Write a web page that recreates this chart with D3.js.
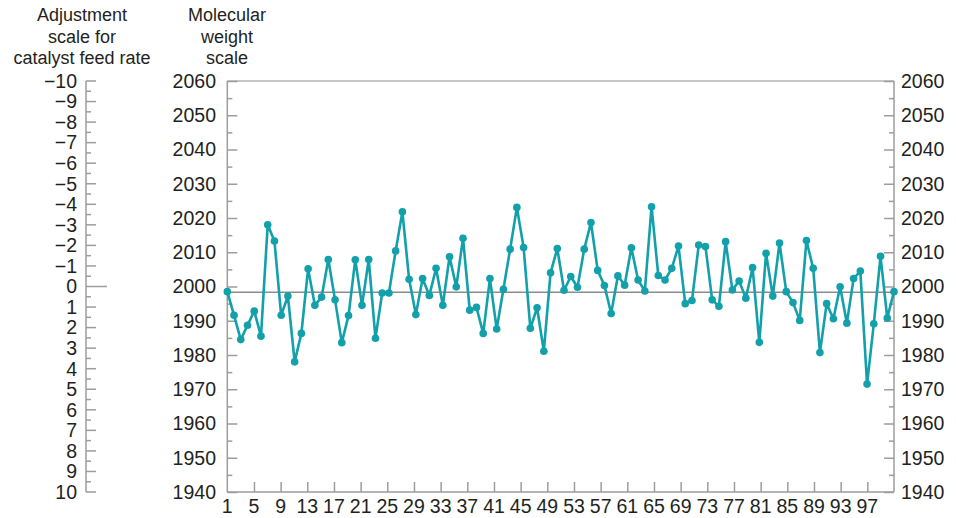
<!DOCTYPE html>
<html>
<head>
<meta charset="utf-8">
<script src="https://cdn.jsdelivr.net/npm/d3@7"></script>
<style>
  html, body { margin: 0; padding: 0; background: #fff; }
  svg { display: block; }
  text { font-family: "Liberation Sans", Arial, sans-serif; fill: #231f20; }
</style>
</head>
<body>
<svg id="chart" width="956" height="518"></svg>
<script>
// ---- data ----
const observations = [
  1998.5, 1991.6, 1984.5, 1988.7, 1992.8, 1985.5, 2018.0, 2013.3, 1991.6, 1997.2,
  1978.0, 1986.3, 2005.2, 1994.5, 1996.9, 2007.9, 1996.1, 1983.6, 1991.5, 2007.8,
  1994.5, 2007.9, 1984.9, 1998.1, 1998.1, 2010.4, 2021.8, 2002.1, 1991.8, 2002.3,
  1997.4, 2005.3, 1994.5, 2008.7, 1999.9, 2014.1, 1993.1, 1993.9, 1986.3, 2002.3,
  1987.6, 1999.2, 2010.9, 2023.1, 2011.4, 1987.8, 1993.8, 1981.1, 2004.0, 2011.1,
  1998.9, 2002.9, 1999.8, 2010.9, 2018.7, 2004.7, 2000.3, 1992.1, 2003.1, 2000.4,
  2011.3, 2001.9, 1998.7, 2023.3, 2003.2, 2001.9, 2005.3, 2011.8, 1995.0, 1995.9,
  2012.1, 2011.7, 1996.1, 1994.2, 2013.1, 1999.0, 2001.6, 1996.6, 2005.5, 1983.7,
  2009.7, 1997.2, 2012.7, 1998.5, 1995.3, 1990.1, 2013.4, 2005.3, 1980.7, 1995.0,
  1990.6, 1999.9, 1989.3, 2002.3, 2004.5, 1971.5, 1989.1, 2008.8, 1990.8, 1998.5
];
const xTickLabels = [1, 5, 9, 13, 17, 21, 25, 29, 33, 37, 41, 45, 49, 53, 57, 61, 65, 69, 73, 77, 81, 85, 89, 93, 97];
const mwTicks = [1940, 1950, 1960, 1970, 1980, 1990, 2000, 2010, 2020, 2030, 2040, 2050, 2060];
const mwMinorTicks = [1945, 1955, 1965, 1975, 1985, 1995, 2005, 2015, 2025, 2035, 2045, 2055];
const adjTicks = [-10, -9, -8, -7, -6, -5, -4, -3, -2, -1, 0, 1, 2, 3, 4, 5, 6, 7, 8, 9, 10];
const adjMinorTicks = [-9.5, -8.5, -7.5, -6.5, -5.5, -4.5, -3.5, -2.5, -1.5, -0.5, 0.5, 1.5, 2.5, 3.5, 4.5, 5.5, 6.5, 7.5, 8.5, 9.5];
const centerValue = [1998.3];
const leftTitle = ["Adjustment", "scale for", "catalyst feed rate"];
const midTitle = ["Molecular", "weight", "scale"];

// ---- layout ----
const L = 227.3, R = 894, T = 81, B = 492, ADJX = 86;
const axisColor = "#9d9d9d";
const lineColor = "#12a0ab";
const fs = 18, nfs = 19.5;

const svg = d3.select("#chart");

const x = d3.scaleLinear().domain([1, observations.length]).range([L, R]);
const xTick = d3.scaleLinear().domain([1, observations.length + 1]).range([L, R]);
const y = d3.scaleLinear().domain([1940, 2060]).range([B, T]);
const adj = d3.scaleLinear().domain([-10, 10]).range([T, B]);

const minus = v => (v < 0 ? "\u2212" + Math.abs(v) : String(v));

// ---- titles ----
const titleG = svg.append("g");
leftTitle.forEach((t, i) => {
  titleG.append("text").attr("x", 82).attr("y", 21 + i * 21.5)
    .attr("text-anchor", "middle").attr("font-size", fs).text(t);
});
midTitle.forEach((t, i) => {
  titleG.append("text").attr("x", 227).attr("y", 21 + i * 21.5)
    .attr("text-anchor", "middle").attr("font-size", fs).text(t);
});

// ---- adjustment axis ----
const ag = svg.append("g").attr("stroke", axisColor).attr("stroke-width", 1.5);
ag.append("line").attr("x1", ADJX).attr("x2", ADJX).attr("y1", adj(-10)).attr("y2", adj(10));
ag.selectAll(".maj").data(adjTicks).join("line")
  .attr("x1", ADJX).attr("x2", d => ADJX + (d === 0 ? 21 : 10))
  .attr("y1", d => adj(d)).attr("y2", d => adj(d));
ag.selectAll(".min").data(adjMinorTicks).join("line")
  .attr("x1", ADJX).attr("x2", ADJX + 5)
  .attr("y1", d => adj(d)).attr("y2", d => adj(d));
svg.append("g").selectAll("text").data(adjTicks).join("text")
  .attr("x", 77).attr("y", d => adj(d)).attr("dy", "0.35em")
  .attr("text-anchor", "end").attr("font-size", nfs).text(minus);

// ---- frame ----
const fg = svg.append("g").attr("stroke", axisColor).attr("stroke-width", 1.5).attr("fill", "none");
fg.append("line").attr("x1", L).attr("x2", R).attr("y1", T).attr("y2", T).attr("stroke", "#b5b5b5");
fg.append("line").attr("x1", L).attr("x2", L).attr("y1", T).attr("y2", B);
fg.append("line").attr("x1", R).attr("x2", R).attr("y1", T).attr("y2", B);
fg.append("line").attr("x1", L).attr("x2", R).attr("y1", B).attr("y2", B);

// molecular weight axes (ticks inward)
const leftG = svg.append("g").attr("transform", `translate(${L},0)`)
  .call(d3.axisRight(y).tickValues(mwTicks).tickSize(10).tickFormat(""));
const leftMinor = svg.append("g").attr("transform", `translate(${L},0)`)
  .call(d3.axisRight(y).tickValues(mwMinorTicks).tickSize(5).tickFormat(""));
const rightG = svg.append("g").attr("transform", `translate(${R},0)`)
  .call(d3.axisLeft(y).tickValues(mwTicks).tickSize(10).tickFormat(""));
const rightMinor = svg.append("g").attr("transform", `translate(${R},0)`)
  .call(d3.axisLeft(y).tickValues(mwMinorTicks).tickSize(5).tickFormat(""));
const bottomG = svg.append("g").attr("transform", `translate(0,${B})`)
  .call(d3.axisTop(xTick).tickValues(xTickLabels.slice(1)).tickSize(10).tickFormat(""));
[leftG, leftMinor, rightG, rightMinor, bottomG].forEach(g => {
  g.select(".domain").remove();
  g.selectAll("line").attr("stroke", axisColor).attr("stroke-width", 1.5);
});

// tick labels
svg.append("g").selectAll("text").data(mwTicks).join("text")
  .attr("x", 216).attr("y", d => y(d)).attr("dy", "0.35em")
  .attr("text-anchor", "end").attr("font-size", nfs).text(d => d);
svg.append("g").selectAll("text").data(mwTicks).join("text")
  .attr("x", 901).attr("y", d => y(d)).attr("dy", "0.35em")
  .attr("text-anchor", "start").attr("font-size", nfs).text(d => d);
svg.append("g").selectAll("text").data(xTickLabels).join("text")
  .attr("x", d => xTick(d)).attr("y", 513)
  .attr("text-anchor", "middle").attr("font-size", nfs).text(d => d);

// centre line
svg.append("g").selectAll("line").data(centerValue).join("line")
  .attr("x1", L).attr("x2", R).attr("y1", d => y(d)).attr("y2", d => y(d))
  .attr("stroke", "#8c8c8c").attr("stroke-width", 1.5);

// ---- series ----
const line = d3.line().x((d, i) => x(i + 1)).y(d => y(d));
svg.append("path").datum(observations)
  .attr("fill", "none").attr("stroke", lineColor).attr("stroke-width", 2.6)
  .attr("stroke-linejoin", "round").attr("d", line);
svg.append("g").selectAll("circle").data(observations).join("circle")
  .attr("cx", (d, i) => x(i + 1)).attr("cy", d => y(d)).attr("r", 3.8)
  .attr("fill", lineColor);
</script>
</body>
</html>
